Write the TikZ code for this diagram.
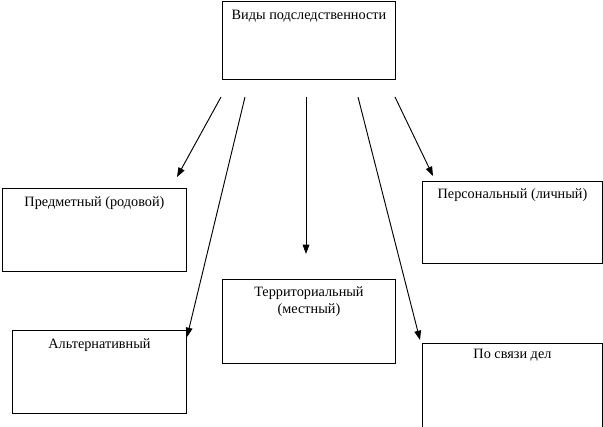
\documentclass[tikz,border=0pt]{standalone}
\usepackage{fontspec}
\setmainfont{Liberation Serif}
\usetikzlibrary{arrows.meta}

\begin{document}
\begin{tikzpicture}[x=0.75pt, y=-0.75pt, font=\fontsize{10.7}{12.75}\selectfont,
  box/.style={draw, line width=0.7pt, anchor=north west, inner sep=0pt},
  lbl/.style={anchor=base, align=center, inner sep=0pt},
  arr/.style={line width=0.7pt, -{Triangle[length=7pt, width=5pt]}}]
  \clip (0,0) rectangle (603,426);
  % boxes
  \node[box, minimum width=129.75pt, minimum height=58.5pt] (vidy) at (222,1) {};
  \node[box, minimum width=138pt, minimum height=62.25pt] (pred) at (2,188) {};
  \node[box, minimum width=135pt, minimum height=61.5pt] (pers) at (422,181) {};
  \node[box, minimum width=130.5pt, minimum height=62.25pt] (alt) at (12,330) {};
  \node[box, minimum width=129.75pt, minimum height=63pt] (terr) at (222,279) {};
  \node[box, minimum width=135pt, minimum height=90pt] (svyaz) at (422,343) {};
  % texts
  \node[lbl] (vidyt) at ([yshift=-13.5pt]vidy.north) {Виды подследственности};
  \node[lbl] (predt) at ([yshift=-14pt]pred.north) {Предметный (родовой)};
  \node[lbl] (perst) at ([yshift=-12.75pt]pers.north) {Персональный (личный)};
  \node[lbl] (altt) at ([yshift=-13.5pt]alt.north) {Альтернативный};
  \node[lbl] (terrt) at ([yshift=-25.5pt]terr.north) {Территориальный\\(местный)};
  \node[lbl] (svyazt) at ([yshift=-11.25pt]svyaz.north) {По связи дел};
  % arrows
  \coordinate (s1) at (221,97);  \coordinate (e1) at (177,177);
  \coordinate (s2) at (245,97);  \coordinate (e2) at (187,337);
  \coordinate (s3) at (306,97);  \coordinate (e3) at (306,254);
  \coordinate (s4) at (358,97);  \coordinate (e4) at (420,340);
  \coordinate (s5) at (395,97);  \coordinate (e5) at (433,176);
  \foreach \i in {1,...,5} \draw[arr] (s\i) -- (e\i);
\end{tikzpicture}
\end{document}
